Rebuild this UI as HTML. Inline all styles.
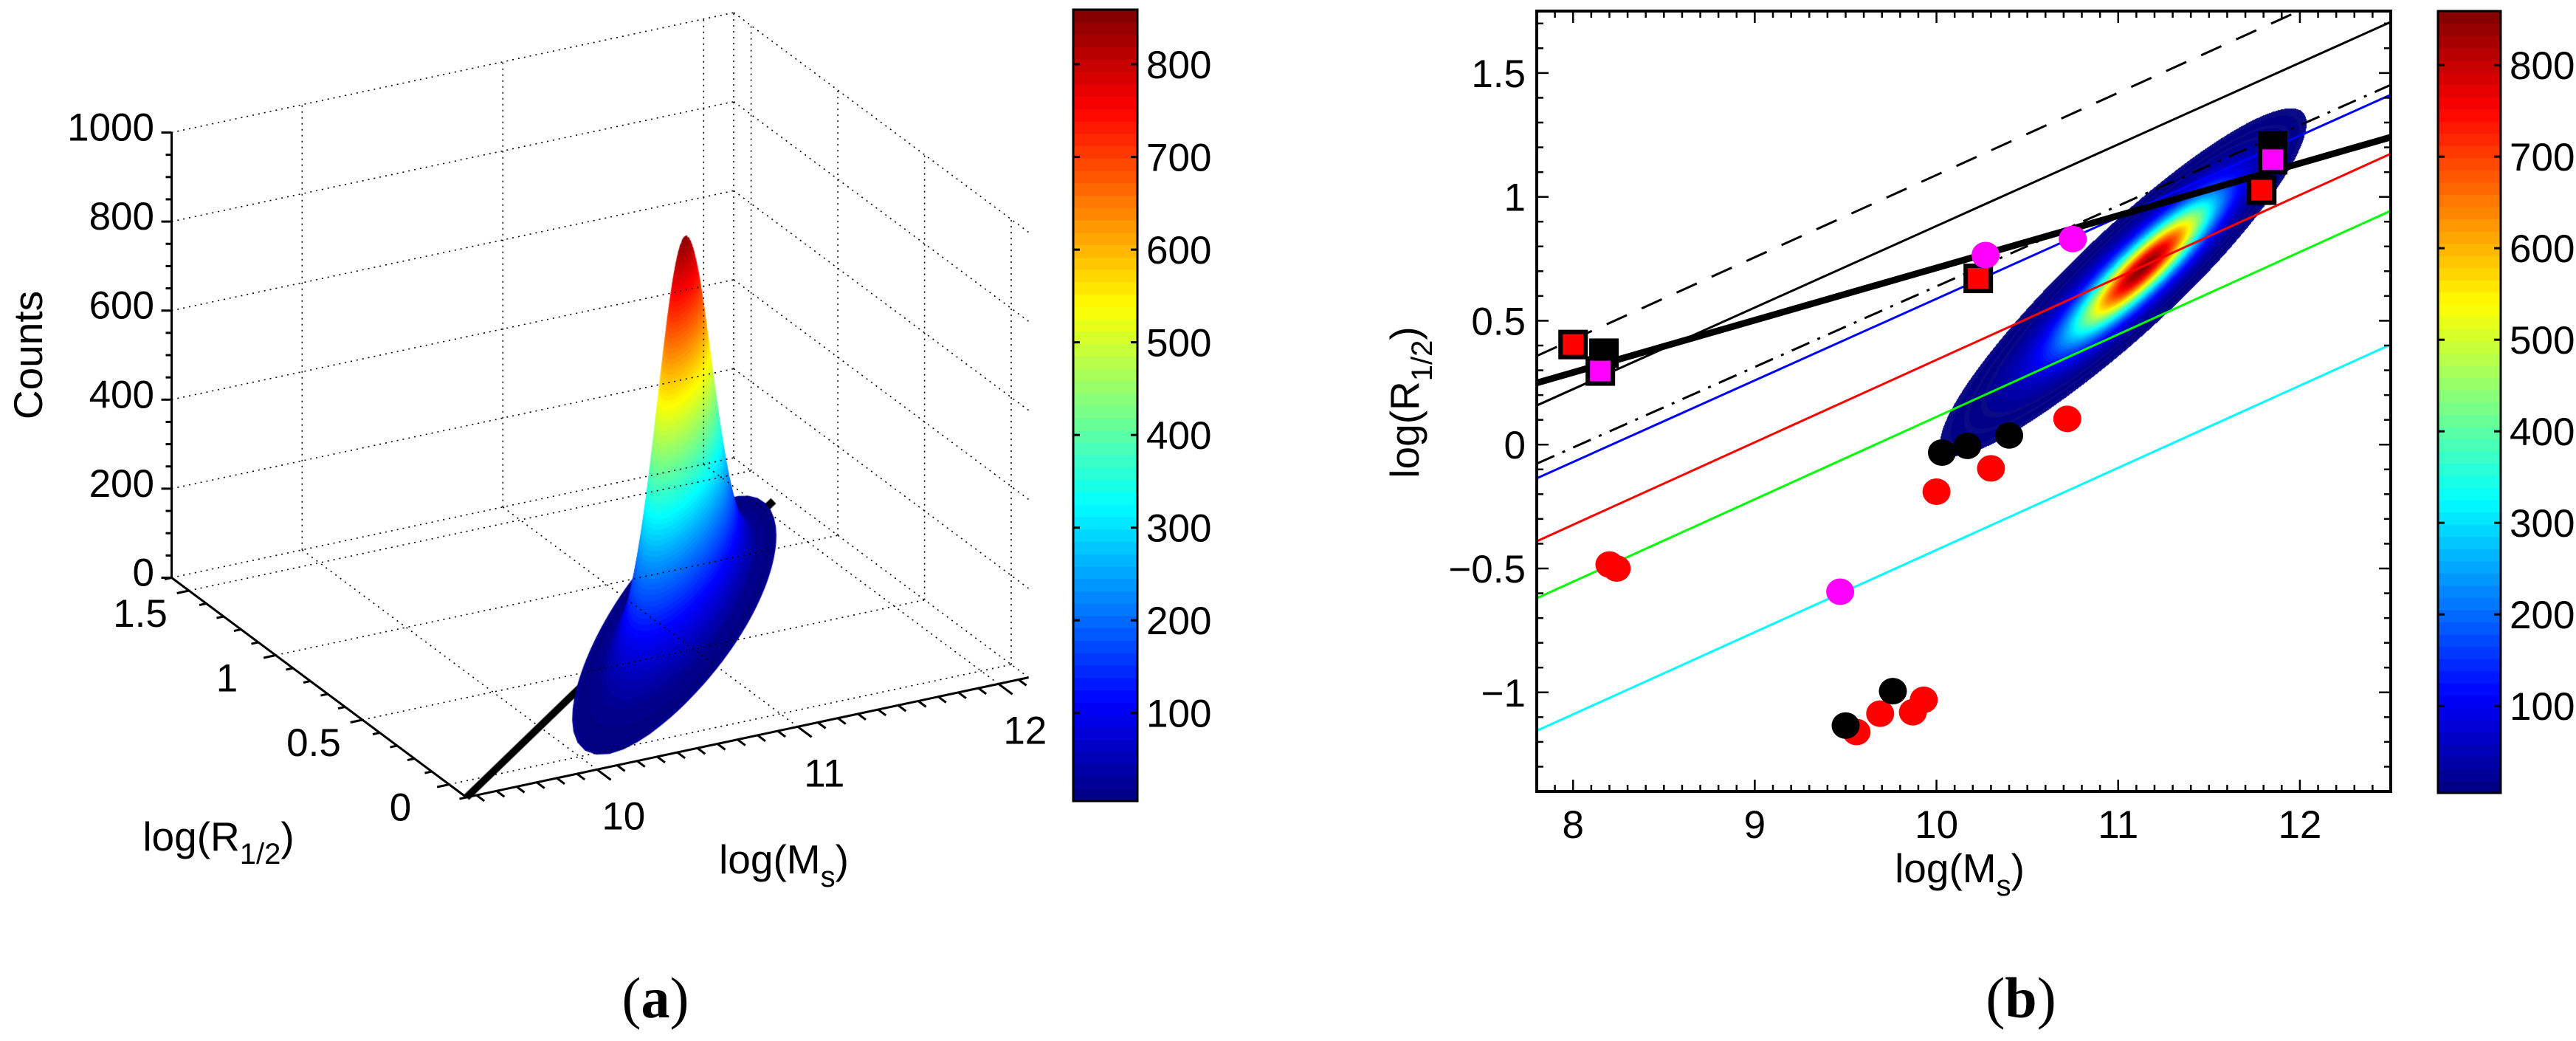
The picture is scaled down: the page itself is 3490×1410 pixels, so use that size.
<!DOCTYPE html>
<html><head><meta charset="utf-8"><style>
html,body{margin:0;padding:0;background:#fff;}
#wrap{position:relative;width:3490px;height:1410px;overflow:hidden;background:#fff;}
canvas,svg{position:absolute;left:0;top:0;}
text{font-family:"Liberation Sans",sans-serif;fill:#000;}
</style></head><body>
<div id="wrap">
<canvas id="cv" width="3490" height="1410"></canvas>
<svg id="sv" width="3490" height="1410" xmlns="http://www.w3.org/2000/svg">
<defs><clipPath id="clipB"><rect x="2082" y="15" width="1157" height="1057"/></clipPath></defs>
<g id="gA"></g>
<g id="gB"></g>
<text x="888" y="1378" font-size="78" text-anchor="middle" style="font-family:'Liberation Serif',serif">(<tspan font-weight="bold">a</tspan>)</text>
<text x="2738" y="1378" font-size="78" text-anchor="middle" style="font-family:'Liberation Serif',serif">(<tspan font-weight="bold">b</tspan>)</text>
</svg>
</div>
<script>
// ---------- data ----------
const compCenterM = [11.15, 11.0];
const compCenterR = [0.72, 0.64];
const compAmp = [740, 120];
const compSigU = [0.3, 0.45];
const compSigV = [0.065, 0.085];
const ridgeSlope = 0.68;
const cMin = 5, cMax = 859;
const cbarTicks = [100,200,300,400,500,600,700,800];

const xTicksB = [8,9,10,11,12];
const yTicksB = [-1,-0.5,0,0.5,1,1.5];
const yTickLabelsB = ['\u22121','\u22120.5','0','0.5','1','1.5'];
const lineNames = ['dashed-line','thin-black-line','dashdot-line','blue-line','red-line','green-line','cyan-line','thick-fit-line'];
const lineStartY = [0.358,0.158,-0.077,-0.136,-0.39,-0.62,-1.155,0.249];
const lineEndY = [1.918,1.706,1.452,1.412,1.174,0.944,0.404,1.241];
const redCircM = [8.2,8.24,10.0,10.3,10.72,9.56,9.69,9.87,9.93];
const redCircR = [-0.484,-0.5,-0.19,-0.096,0.104,-1.16,-1.086,-1.08,-1.03];
const blackCircM = [10.03,10.17,10.4,9.76,9.5];
const blackCircR = [-0.032,-0.005,0.037,-0.995,-1.134];
const magCircM = [10.27,10.75,9.47];
const magCircR = [0.765,0.83,-0.594];
const blackSqM = [8.17,11.85];
const blackSqR = [0.369,1.206];
const magSqM = [8.15,11.85];
const magSqR = [0.297,1.15];
const redSqM = [8.0,10.23,11.79];
const redSqR = [0.404,0.671,1.027];

const zTicksA = [0,200,400,600,800,1000];
const rTicksA = [0,0.5,1,1.5];
const rTickLabelsA = ['0','0.5','1','1.5'];
const mTicksA = [10,11,12];
const fitLineAM = [9.35,12.08];
const fitLineAR = [-0.1,1.29];

// ---------- helpers ----------
const NS='http://www.w3.org/2000/svg';
function mk(tag,attrs,parent){const e=document.createElementNS(NS,tag);for(const k in attrs)e.setAttribute(k,attrs[k]);parent.appendChild(e);return e;}
function jet(t){t=Math.max(0,Math.min(1,t));
 const r=Math.max(0,Math.min(1,Math.min(4*t-1.5,-4*t+4.5)));
 const g=Math.max(0,Math.min(1,Math.min(4*t-0.5,-4*t+3.5)));
 const b=Math.max(0,Math.min(1,Math.min(4*t+0.5,-4*t+2.5)));
 return [Math.round(r*255),Math.round(g*255),Math.round(b*255)];}
function jetStr(t){const c=jet(t);return 'rgb('+c[0]+','+c[1]+','+c[2]+')';}
const dn=Math.sqrt(1+ridgeSlope*ridgeSlope), du=[1/dn,ridgeSlope/dn], dv=[-ridgeSlope/dn,1/dn];
function dens(M,R){let s=0;for(let i=0;i<compAmp.length;i++){const a=M-compCenterM[i],b=R-compCenterR[i];
 const u=a*du[0]+b*du[1],v=a*dv[0]+b*dv[1];s+=compAmp[i]*Math.exp(-0.5*(u*u/(compSigU[i]*compSigU[i])+v*v/(compSigV[i]*compSigV[i])));}return s;}
const nLev=64;
function levT(f){const k=Math.floor((f-cMin)/(cMax-cMin)*nLev);return (k+0.5)/nLev;}

const cv=document.getElementById('cv'),ctx=cv.getContext('2d');
const gA=document.getElementById('gA'),gB=document.getElementById('gB');

// ---------- colorbars ----------
function colorbar(parent,x0,x1,y0,y1,name){
 const g=mk('g',{},parent);
 
 
 const h=(y1-y0)/nLev;
 for(let i=0;i<nLev;i++){const r=mk('rect',{x:x0,y:y1-(i+1)*h,width:x1-x0,height:h+0.8,fill:jetStr((i+0.5)/nLev)},g);
  
  }
 const fr=mk('rect',{x:x0,y:y0,width:x1-x0,height:y1-y0,fill:'none',stroke:'#000','stroke-width':3},g);
 
 
 cbarTicks.forEach(v=>{const y=y1-(v-cMin)/(cMax-cMin)*(y1-y0);
  mk('line',{x1:x0,x2:x0+9,y1:y,y2:y,stroke:'#000','stroke-width':3},g);
  mk('line',{x1:x1-9,x2:x1,y1:y,y2:y,stroke:'#000','stroke-width':3},g);
  const t=mk('text',{x:x1+12,y:y+19,'font-size':53},g);t.textContent=v;
  
  });
}
colorbar(gA,1454,1541,13,1085,'colorbar-a');
colorbar(gB,3303,3388,15,1074,'colorbar-b');

// ---------- panel b ----------
const BX0=2082,BX1=3239,BY0=15,BY1=1072,XMIN=7.8,XMAX=12.5,YMIN=-1.4,YMAX=1.75;
const bx=m=>BX0+(m-XMIN)/(XMAX-XMIN)*(BX1-BX0);
const by=r=>BY0+(YMAX-r)/(YMAX-YMIN)*(BY1-BY0);
(function(){const w=BX1-BX0,h=BY1-BY0;const img=ctx.createImageData(w,h);
 for(let j=0;j<h;j++){const R=YMAX-(j+0.5)/h*(YMAX-YMIN);
  for(let i=0;i<w;i++){const M=XMIN+(i+0.5)/w*(XMAX-XMIN);const f=dens(M,R);
   const p=(j*w+i)*4;let c=null;
   if(f>=4){
    if((f<6)||(f>=9.5&&f<11.5)||(f>=17&&f<20.5))c=[10,10,135];
    else c=jet(levT(f));}
   if(c){img.data[p]=c[0];img.data[p+1]=c[1];img.data[p+2]=c[2];img.data[p+3]=255;}}}
 ctx.putImageData(img,BX0,BY0);})();
const gL=mk('g',{'clip-path':'url(#clipB)'},gB);


const lineStroke=['#000','#000','#000','#00f','#f00','#0f0','#0ff','#000'];
const lineW=[3,3,3,3,3,3,3,9];
const lineDash=['30,22','','26,12,4,12','','','','',''];
lineNames.forEach((n,i)=>{const l=mk('line',{x1:bx(XMIN),y1:by(lineStartY[i]),x2:bx(XMAX),y2:by(lineEndY[i]),stroke:lineStroke[i],'stroke-width':lineW[i]},gL);
 if(lineDash[i])l.setAttribute('stroke-dasharray',lineDash[i]);
 
 });
function squares(Ms,Rs,fill,name){Ms.forEach((m,i)=>{const s=mk('rect',{x:bx(m)-17,y:by(Rs[i])-17,width:34,height:34,fill:fill,stroke:'#000','stroke-width':6},gL);
 
 });}
function circles(Ms,Rs,fill,name){Ms.forEach((m,i)=>{const c=mk('ellipse',{cx:bx(m),cy:by(Rs[i]),rx:19,ry:18,fill:fill},gL);
 
 });}
squares(blackSqM,blackSqR,'#000','black-square');
squares(magSqM,magSqR,'#f0f','magenta-square');
squares(redSqM,redSqR,'#f00','red-square');
circles(redCircM,redCircR,'#f00','red-circle');
circles(blackCircM,blackCircR,'#000','black-circle');
circles(magCircM,magCircR,'#f0f','magenta-circle');
const axB=mk('g',{},gB);


mk('rect',{x:BX0,y:BY0,width:BX1-BX0,height:BY1-BY0,fill:'none',stroke:'#000','stroke-width':4},axB);
for(let k=78;k<=125;k++){const m=k/10,x=bx(m),maj=(k%10===0),L=maj?16:9;
 mk('line',{x1:x,x2:x,y1:BY1,y2:BY1-L,stroke:'#000','stroke-width':2.5},axB);
 mk('line',{x1:x,x2:x,y1:BY0,y2:BY0+L,stroke:'#000','stroke-width':2.5},axB);}
for(let k=-14;k<=17;k++){const r=k/10,y=by(r),maj=(k%5===0),L=maj?16:9;
 mk('line',{x1:BX0,x2:BX0+L,y1:y,y2:y,stroke:'#000','stroke-width':2.5},axB);
 mk('line',{x1:BX1,x2:BX1-L,y1:y,y2:y,stroke:'#000','stroke-width':2.5},axB);}
xTicksB.forEach(v=>{const t=mk('text',{x:bx(v),y:1135,'font-size':53,'text-anchor':'middle'},axB);t.textContent=v;
 
 });
yTicksB.forEach((v,i)=>{const t=mk('text',{x:2067,y:by(v)+19,'font-size':53,'text-anchor':'end'},axB);t.textContent=yTickLabelsB[i];
 
 });
(function(){const t=mk('text',{x:2655,y:1195,'font-size':55,'text-anchor':'middle'},axB);
 t.innerHTML='log(M<tspan font-size="40" dy="18">s</tspan><tspan dy="-18">)</tspan>';
 
 
 const t2=mk('text',{x:0,y:0,'font-size':55,'text-anchor':'middle',transform:'translate(1922,545) rotate(-90)'},axB);
 t2.innerHTML='log(R<tspan font-size="40" dy="18">1/2</tspan><tspan dy="-18">)</tspan>';
 
 })();

// ---------- panel a (3D) ----------
const M0=9.35,M1=12.15,R0=-0.1,R1=1.6,FX=632,FY=1080;
function P(M,R,Z){return [FX+(M-M0)*272+(R-R0)*(-235), FY+(M-M0)*(-58)+(R-R0)*(-175)-Z*0.603];}
const gGrid=mk('g',{stroke:'#000','stroke-width':1.6,'stroke-dasharray':'2,6',fill:'none'},gA);


function seg(a,b,g){return mk('line',{x1:a[0],y1:a[1],x2:b[0],y2:b[1]},g);}
zTicksA.forEach(z=>{seg(P(M0,R1,z),P(M1,R1,z),gGrid);seg(P(M1,R1,z),P(M1,R0,z),gGrid);});
mTicksA.forEach(m=>{seg(P(m,R1,0),P(m,R1,1000),gGrid);seg(P(m,R0,0),P(m,R1,0),gGrid);});
rTicksA.forEach(r=>{seg(P(M1,r,0),P(M1,r,1000),gGrid);seg(P(M0,r,0),P(M1,r,0),gGrid);});
seg(P(M1,R1,0),P(M1,R1,1000),gGrid);
(function(){const a=P(fitLineAM[0],fitLineAR[0],0),b=P(fitLineAM[1],fitLineAR[1],0);
 ctx.strokeStyle='#000';ctx.lineWidth=10;ctx.beginPath();ctx.moveTo(a[0],a[1]);ctx.lineTo(b[0],b[1]);ctx.stroke();})();
(function(){const cM=compCenterM[0],cR=compCenterR[0],nA=200;
 for(let L=5;L<=855;L+=10){ctx.beginPath();
  for(let k=0;k<=nA;k++){const th=k/nA*2*Math.PI,dx=Math.cos(th),dy=Math.sin(th);
   let lo=0,hi=3;for(let it=0;it<30;it++){const mid=(lo+hi)/2;if(dens(cM+dx*mid,cR+dy*mid)>L)lo=mid;else hi=mid;}
   const p=P(cM+dx*lo,cR+dy*lo,L);if(k===0)ctx.moveTo(p[0],p[1]);else ctx.lineTo(p[0],p[1]);}
  ctx.closePath();ctx.fillStyle=jetStr((L-cMin)/(cMax-cMin));ctx.fill();
  if(L<=25){ctx.strokeStyle='#00008c';ctx.lineWidth=5;ctx.stroke();}}})();
const axA=mk('g',{stroke:'#000','stroke-width':3},gA);


seg(P(M0,R1,0),P(M0,R1,1000),axA);
seg(P(M0,R1,0),P(M0,R0,0),axA);
seg(P(M0,R0,0),P(M1,R0,0),axA);
for(let z=0;z<=1000;z+=50){const p=P(M0,R1,z);mk('line',{x1:p[0],x2:p[0]-(z%200===0?14:8),y1:p[1],y2:p[1]},axA);}
for(let k=-1;k<=16;k++){const p=P(M0,k/10,0),q=P(M0+(k%5===0?0.06:0.035),k/10,0);mk('line',{x1:p[0],y1:p[1],x2:2*p[0]-q[0],y2:2*p[1]-q[1]},axA);}
for(let k=94;k<=121;k++){const p=P(k/10,R0,0),q=P(k/10,R0+(k%10===0?0.08:0.045),0);mk('line',{x1:p[0],y1:p[1],x2:2*p[0]-q[0],y2:2*p[1]-q[1]},axA);}
const txA=mk('g',{stroke:'none'},gA);
zTicksA.forEach(z=>{const p=P(M0,R1,z);const t=mk('text',{x:209,y:p[1]+11,'font-size':53,'text-anchor':'end'},txA);t.textContent=z;
 
 });
rTicksA.forEach((r,i)=>{const p=P(M0,r,0);const t=mk('text',{x:p[0]-66,y:p[1]+30+19,'font-size':53,'text-anchor':'middle'},txA);t.textContent=rTickLabelsA[i];
 
 });
mTicksA.forEach(m=>{const p=P(m,R0,0);const t=mk('text',{x:p[0]+36,y:p[1]+62+19,'font-size':53,'text-anchor':'middle'},txA);t.textContent=m;
 
 });
(function(){const t=mk('text',{x:296,y:1152,'font-size':55,'text-anchor':'middle'},txA);
 t.innerHTML='log(R<tspan font-size="40" dy="18">1/2</tspan><tspan dy="-18">)</tspan>';
 
 
 const t2=mk('text',{x:1062,y:1183,'font-size':55,'text-anchor':'middle'},txA);
 t2.innerHTML='log(M<tspan font-size="40" dy="18">s</tspan><tspan dy="-18">)</tspan>';
 
 
 const t3=mk('text',{x:0,y:0,'font-size':55,'text-anchor':'middle',transform:'translate(57,481) rotate(-90)'},txA);
 t3.textContent='Counts';
 
 })();
</script>
</body></html>
